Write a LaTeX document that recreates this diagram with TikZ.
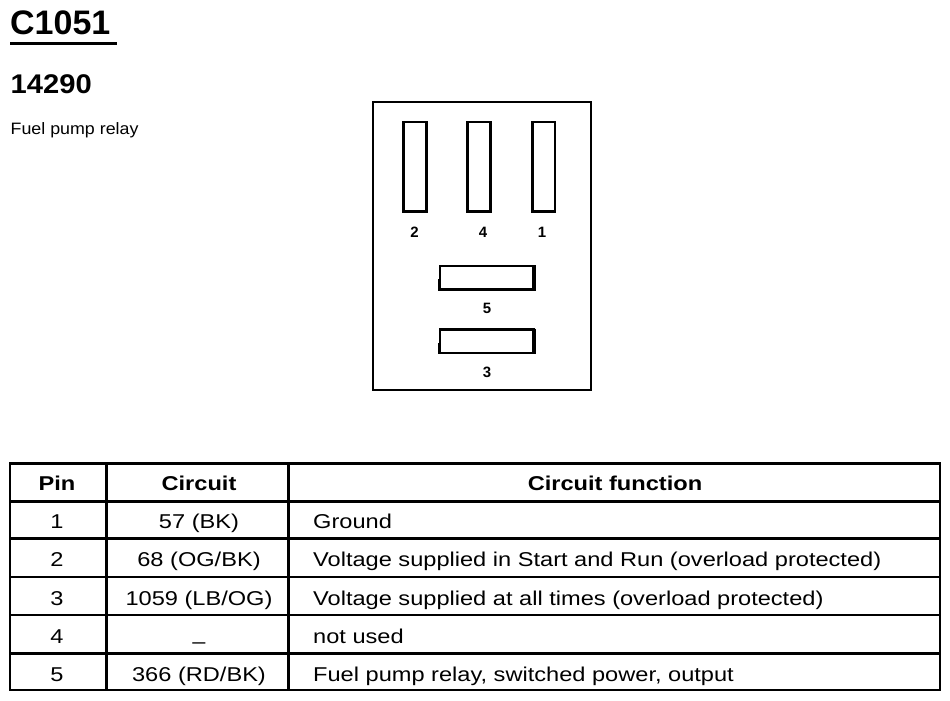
\documentclass[tikz,border=0pt]{standalone}
\usepackage{fontspec}
\setmainfont{Liberation Sans}
\newfontfamily\widefont[FakeStretch=1.18]{Liberation Sans}
\newfontfamily\midfont[FakeStretch=1.08]{Liberation Sans}
\begin{document}
\begin{tikzpicture}[x=1pt,y=-1pt,
  grid/.style={line width=2.6pt},
  box/.style={line width=2.6pt},
  slot/.style={line width=2.4pt},
  pinlbl/.style={font=\bfseries\fontsize{15}{17}\selectfont, inner sep=0pt},
  cell/.style={font=\widefont\fontsize{20}{22}\selectfont, inner sep=0pt, anchor=base},
  hcell/.style={font=\widefont\bfseries\fontsize{20}{22}\selectfont, inner sep=0pt, anchor=base},
  lcell/.style={cell, anchor=base west}]
\useasboundingbox (0,0) rectangle (950,701);
% header
\node[anchor=base west, inner sep=0pt, font=\bfseries\fontsize{34}{36}\selectfont] (title) at (10,35) {C1051};
\draw[line width=2.8pt] (10,43.5) -- (117,43.5);
\node[anchor=base west, inner sep=0pt, font=\midfont\bfseries\fontsize{27}{29}\selectfont] (num) at (10.5,93) {14290};
\node[anchor=base west, inner sep=0pt, font=\midfont\fontsize{16.5}{18}\selectfont] (desc) at (10.5,134) {Fuel pump relay};
% connector face
\draw[box] (373,102) rectangle (591,390);
\draw[slot] (403.5,122) rectangle (426.5,211.5);
\draw[slot] (467.5,122) rectangle (490.5,211.5);
\draw[slot] (532.5,122) rectangle (555,211.5);
\node[pinlbl] (p2) at (414.5,232) {2};
\node[pinlbl] (p4) at (483,232) {4};
\node[pinlbl] (p1) at (542,232) {1};
\draw[slot] (440,266) rectangle (534,289.5);
\draw[line width=4pt] (534,265) -- (534,290.5);
\draw[line width=3pt] (439,279) -- (439,290.5);
\node[pinlbl] (p5) at (487,308) {5};
\draw[slot] (440,329.5) rectangle (534,353);
\draw[line width=4pt] (534,328.5) -- (534,354);
\draw[line width=3pt] (439,343) -- (439,354);
\node[pinlbl] (p3) at (487,372) {3};
% table
\draw[grid] (10,463.5) rectangle (940,690);
\foreach \y in {501.5,538.5,577,615,653.5} \draw[grid] (10,\y) -- (940,\y);
\draw[grid] (106.5,463.5) -- (106.5,690);
\draw[grid] (288.5,463.5) -- (288.5,690);
\node[hcell] (h1) at (57,490) {Pin};
\node[hcell] (h2) at (199,490) {Circuit};
\node[hcell] (h3) at (615,490) {Circuit function};
\node[cell] (a1) at (57,528) {1};
\node[cell] (b1) at (199,528) {57 (BK)};
\node[lcell] (c1) at (313,528) {Ground};
\node[cell] (a2) at (57,566.5) {2};
\node[cell] (b2) at (199,566.5) {68 (OG/BK)};
\node[lcell] (c2) at (313,566.5) {Voltage supplied in Start and Run (overload protected)};
\node[cell] (a3) at (57,605) {3};
\node[cell] (b3) at (199,605) {1059 (LB/OG)};
\node[lcell] (c3) at (313,605) {Voltage supplied at all times (overload protected)};
\node[cell] (a4) at (57,643) {4};
\node[cell] (b4) at (199,643) {\raisebox{-5pt}{–}};
\node[lcell] (c4) at (313,643) {not used};
\node[cell] (a5) at (57,681.5) {5};
\node[cell] (b5) at (199,681.5) {366 (RD/BK)};
\node[lcell] (c5) at (313,681.5) {Fuel pump relay, switched power, output};
\end{tikzpicture}
\end{document}
